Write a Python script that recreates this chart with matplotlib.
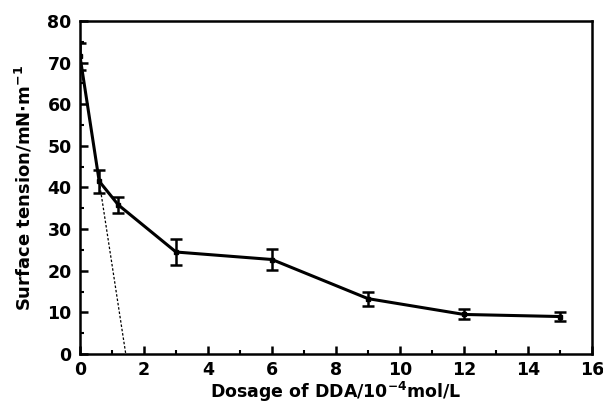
import matplotlib.pyplot as plt
from matplotlib.ticker import MultipleLocator

dosage = [0, 0.6, 1.2, 3, 6, 9, 12, 15]
tension = [71.5, 41.5, 35.8, 24.5, 22.7, 13.3, 9.5, 9.0]
err = [3.2, 2.8, 2.0, 3.1, 2.6, 1.7, 1.2, 1.0]

# tangent line through the first points
tan_x = [0, 1.43]
tan_y = [71.5, 0]

plt.rcParams['font.family'] = ['DejaVu Sans']
plt.rcParams['font.weight'] = 'bold'
plt.rcParams['mathtext.default'] = 'bf'

fig = plt.figure(figsize=(6.03, 4.04), dpi=100)
ax = fig.add_axes([80 / 603, 50 / 404, 512 / 603, 333 / 404])

ax.plot(tan_x, tan_y, 'k--', lw=0.9, dashes=(2, 1.5))
ax.errorbar(dosage, tension, yerr=err, color='k', lw=2.2, marker='s', ms=3,
            capsize=4, elinewidth=1.8, capthick=1.8)

ax.set_xlim(0, 16)
ax.set_ylim(0, 80)
ax.xaxis.set_major_locator(MultipleLocator(2))
ax.xaxis.set_minor_locator(MultipleLocator(1))
ax.yaxis.set_major_locator(MultipleLocator(10))
ax.yaxis.set_minor_locator(MultipleLocator(5))
ax.tick_params(which='major', direction='in', length=6, width=1.8, labelsize=12.5)
ax.tick_params(axis='x', which='major', pad=5)
ax.tick_params(axis='y', which='major', pad=6)
ax.tick_params(which='minor', direction='in', length=3, width=1.5)
for s in ax.spines.values():
    s.set_linewidth(1.8)

ax.set_xlabel(r'Dosage of DDA/10$^{-4}$mol/L', fontsize=12.5, fontweight='bold')
ax.set_ylabel(r'Surface tension/mN$\cdot$m$^{-1}$', fontsize=13, fontweight='bold')
ax.xaxis.set_label_coords(0.5, -0.078)
ax.yaxis.set_label_coords(-0.088, 0.5)

fig.savefig('out.png', dpi=100)
